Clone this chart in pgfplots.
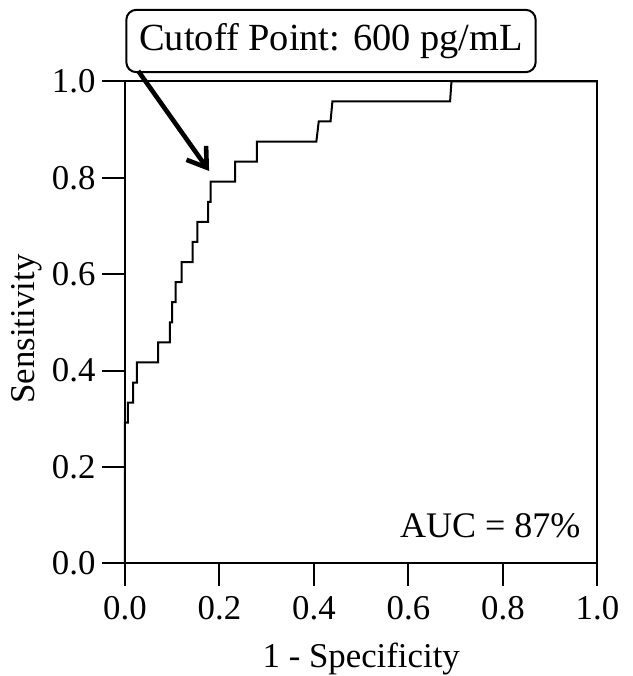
\documentclass[border=0pt]{standalone}
\usepackage{pgfplots}
\pgfplotsset{compat=1.18}
\usepackage{fontspec}
\setmainfont{Liberation Serif}
\usetikzlibrary{arrows.meta}

\begin{document}
\begin{tikzpicture}
\begin{axis}[
    width=236.25pt, height=241pt,
    scale only axis,
    xmin=0, xmax=1, ymin=0, ymax=1,
    xtick={0,0.2,...,1.0}, ytick={0,0.2,...,1.0},
    xticklabel style={yshift=-1.8pt, /pgf/number format/.cd, fixed, fixed zerofill, precision=1},
    yticklabel style={/pgf/number format/.cd, fixed, fixed zerofill, precision=1},
    /pgf/number format/assume math mode=true,
    tick align=outside,
    xtick pos=bottom, ytick pos=left,
    major tick length=11.25pt,
    tick style={black, line width=1pt},
    axis line style={line width=1pt},
    ticklabel style={font=\fontsize{17.4}{20}\selectfont},
    label style={font=\fontsize{17.4}{20}\selectfont},
    xlabel={1 - Specificity},
    ylabel={Sensitivity},
    xlabel style={at={(axis description cs:0.5,-0.2172)}, anchor=base},
    ylabel style={at={(axis description cs:-0.1905,0.486)}, anchor=base},
    clip=false,
]
\addplot[black, line width=1pt] coordinates {
    (0,0) (0,0.2917) (0.006,0.2917) (0.006,0.3333)
    (0.017,0.3333) (0.017,0.375) (0.025,0.375) (0.025,0.4167)
    (0.070,0.4167) (0.070,0.4583) (0.095,0.4583) (0.095,0.5)
    (0.100,0.5) (0.100,0.5417) (0.107,0.5417) (0.107,0.5833)
    (0.120,0.5833) (0.120,0.625) (0.143,0.625) (0.143,0.6667)
    (0.153,0.6667) (0.153,0.7083) (0.176,0.7083) (0.176,0.75)
    (0.181,0.75) (0.181,0.7917) (0.233,0.7917) (0.233,0.8333)
    (0.279,0.8333) (0.279,0.875) (0.405,0.875) (0.410,0.9167)
    (0.435,0.9167) (0.439,0.9583) (0.688,0.9583) (0.691,1)
    (1,1)
};
\node[anchor=base east, font=\fontsize{18}{21}\selectfont] at ([xshift=-5pt, yshift=13pt]axis cs:1,0) {AUC = 87\%};
\node[draw, rounded corners=5pt, line width=1pt, fill=white, inner xsep=6.5pt, inner ysep=6.75pt,
      font=\fontsize{19.2}{22}\selectfont] (call) at (axis cs:0.436,1.0836) {Cutoff Point: 600 pg/mL};
\draw[line width=2.3pt, -{Straight Barb[length=9pt, width=12pt, line width=2.3pt]}]
    (axis cs:0.028,1.0214) -- (axis cs:0.178,0.814);
\end{axis}
\pgfresetboundingbox
\useasboundingbox (-62.5pt,-56.35pt) rectangle (254pt,281.65pt);
\end{tikzpicture}
\end{document}
